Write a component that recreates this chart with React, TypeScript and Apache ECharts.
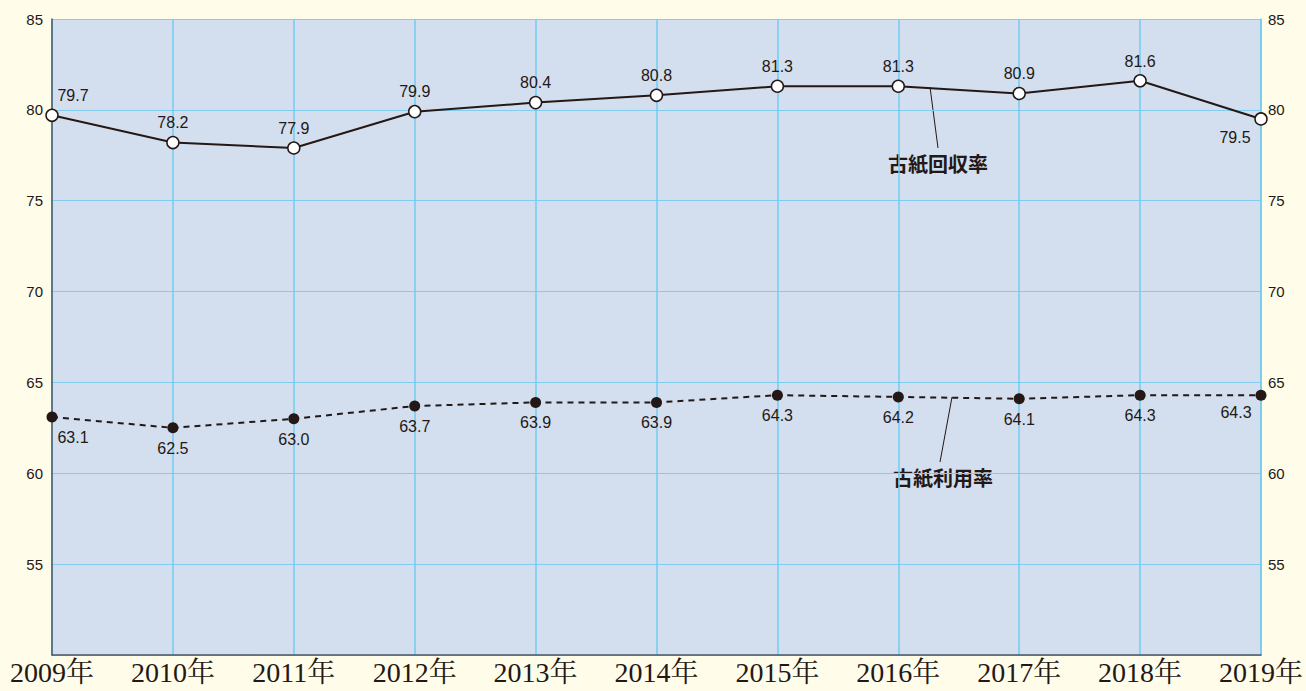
import React, { useEffect, useRef } from "react";
import * as echarts from "echarts";

const years = ["2009年", "2010年", "2011年", "2012年", "2013年", "2014年", "2015年", "2016年", "2017年", "2018年", "2019年"];
const recoveryRate = [79.7, 78.2, 77.9, 79.9, 80.4, 80.8, 81.3, 81.3, 80.9, 81.6, 79.5];
const utilizationRate = [63.1, 62.5, 63.0, 63.7, 63.9, 63.9, 64.3, 64.2, 64.1, 64.3, 64.3];
const recoveryName = "古紙回収率";
const utilizationName = "古紙利用率";

const INK = "#231815";
const SANS = "'Liberation Sans', Arial, 'Noto Sans CJK JP', sans-serif";

export default function App() {
  const ref = useRef<HTMLDivElement>(null);
  useEffect(() => {
    const chart = echarts.init(ref.current!, null, { renderer: "svg" });
    const yAxisBase = {
      type: "value",
      min: 50,
      max: 85,
      interval: 5,
      axisTick: { show: false },
      axisLabel: {
        color: INK,
        fontSize: 15,
        fontFamily: SANS,
        showMinLabel: false,
        formatter: (v: number) => (v === 50 ? "" : String(v)),
      },
    };
    chart.setOption({
      animation: false,
      backgroundColor: "#fffcea",
      grid: {
        left: 52,
        right: 44,
        top: 19,
        bottom: 36,
        show: true,
        backgroundColor: "#d3dfef",
        borderWidth: 0,
      },
      xAxis: {
        type: "category",
        data: years,
        boundaryGap: false,
        axisTick: { show: false },
        axisLine: { show: true, lineStyle: { color: "#4a5868", width: 1.5 } },
        splitLine: { show: true, lineStyle: { color: "#72ccf2", width: 1.5 } },
        axisLabel: {
          color: INK,
          fontSize: 28,
          fontFamily: "'Liberation Serif', 'Times New Roman', 'Noto Serif CJK JP', 'Noto Sans CJK JP', serif",
          margin: 3,
          interval: 0,
          showMinLabel: true,
          showMaxLabel: true,
        },
      },
      yAxis: [
        {
          ...yAxisBase,
          position: "left",
          axisLine: { show: true, lineStyle: { color: "#4a5868", width: 1.5 } },
          splitLine: { show: true, lineStyle: { color: "#82cdef", width: 1 } },
          axisLabel: { ...yAxisBase.axisLabel, margin: 9 },
        },
        {
          ...yAxisBase,
          position: "right",
          axisLine: { show: true, lineStyle: { color: "#72ccf2", width: 1.5 } },
          splitLine: { show: false },
          axisLabel: { ...yAxisBase.axisLabel, margin: 7 },
        },
      ],
      series: [
        {
          name: recoveryName,
          type: "line",
          data: recoveryRate.map((v, i) => {
            const item: any = { value: v };
            if (i === 0) item.label = { position: "top", offset: [21, 0] };
            if (i === recoveryRate.length - 1) item.label = { position: "bottom", offset: [-26, -1] };
            return item;
          }),
          symbol: "circle",
          symbolSize: 12,
          lineStyle: { color: INK, width: 2 },
          itemStyle: { color: "#ffffff", borderColor: INK, borderWidth: 1.5 },
          label: {
            show: true,
            position: "top",
            distance: 5,
            color: INK,
            fontSize: 16,
            fontFamily: SANS,
            formatter: (p: any) => Number(p.value).toFixed(1),
          },
          z: 3,
        },
        {
          name: utilizationName,
          type: "line",
          data: utilizationRate.map((v, i) => {
            const item: any = { value: v };
            if (i === 0) item.label = { position: "bottom", offset: [21, 0] };
            if (i === utilizationRate.length - 1) item.label = { position: "bottom", offset: [-25, -3] };
            return item;
          }),
          symbol: "circle",
          symbolSize: 11,
          lineStyle: { color: INK, width: 2, type: [6, 5] },
          itemStyle: { color: INK },
          label: {
            show: true,
            position: "bottom",
            distance: 7,
            color: INK,
            fontSize: 16,
            fontFamily: SANS,
            formatter: (p: any) => Number(p.value).toFixed(1),
          },
          z: 3,
        },
      ],
      graphic: [
        { type: "line", shape: { x1: 930, y1: 87, x2: 938, y2: 148 }, style: { stroke: INK, lineWidth: 1 } },
        {
          type: "text",
          x: 938,
          y: 163,
          style: {
            text: recoveryName,
            fill: INK,
            font: "bold 20px 'Noto Sans CJK JP', sans-serif",
            textAlign: "center",
            textVerticalAlign: "middle",
          },
        },
        { type: "line", shape: { x1: 952, y1: 397, x2: 940, y2: 462 }, style: { stroke: INK, lineWidth: 1 } },
        {
          type: "text",
          x: 943,
          y: 477,
          style: {
            text: utilizationName,
            fill: INK,
            font: "bold 20px 'Noto Sans CJK JP', sans-serif",
            textAlign: "center",
            textVerticalAlign: "middle",
          },
        },
      ],
    });
    return () => chart.dispose();
  }, []);
  return <div ref={ref} style={{ width: 1306, height: 691, position: "fixed", left: 0, top: 0 }} />;
}
